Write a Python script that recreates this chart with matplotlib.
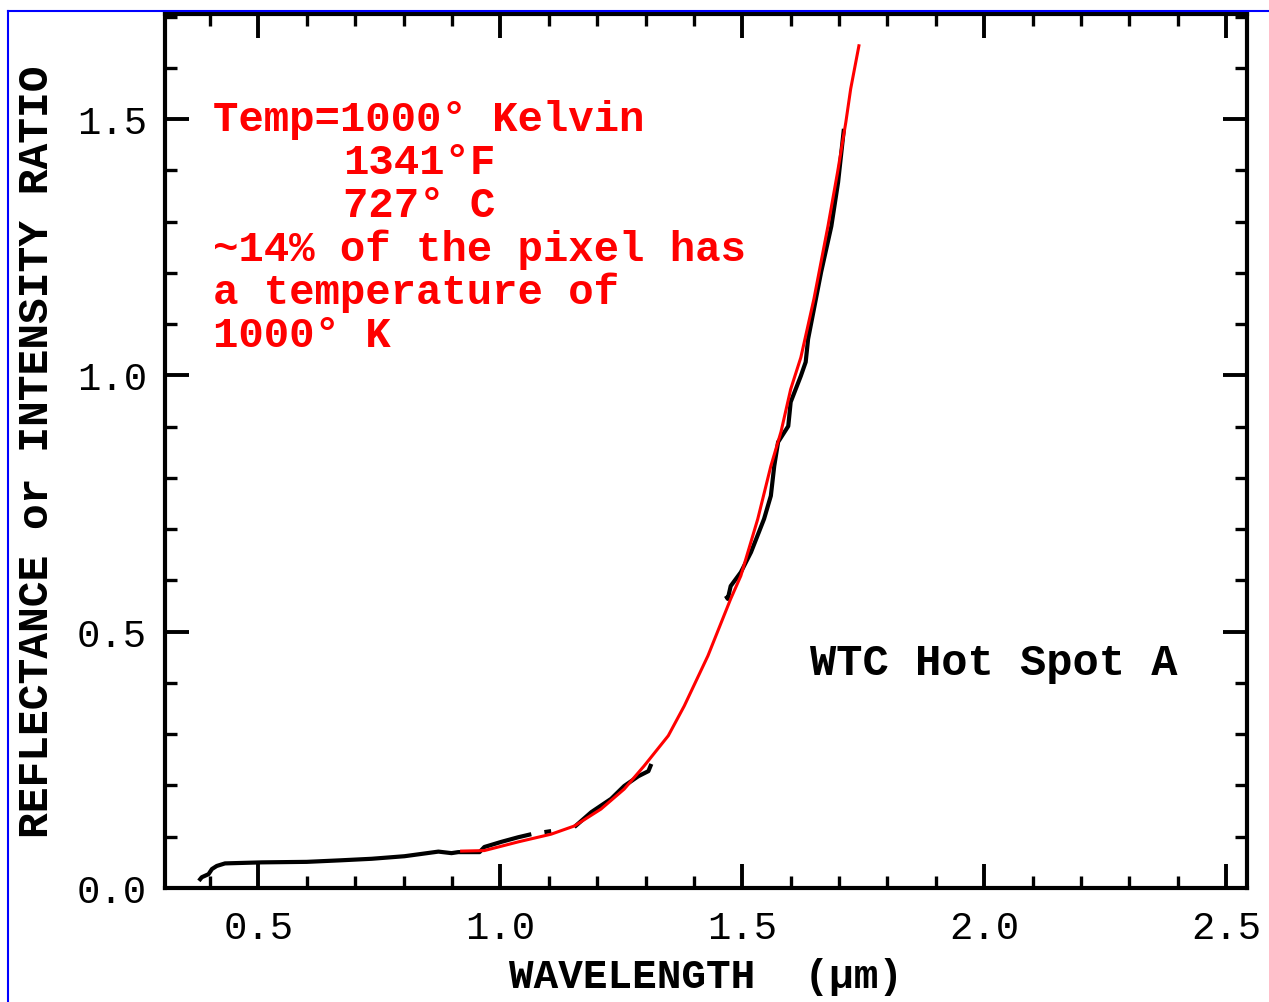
import numpy as np
import matplotlib
matplotlib.use("Agg")
import matplotlib.pyplot as plt
from matplotlib.lines import Line2D
from matplotlib.ticker import MultipleLocator

# measured spectrum (black), NaN marks gaps in the trace
wl_meas = [0.377, 0.383, 0.397, 0.404, 0.414, 0.431, 0.507, 0.600, 0.670, 0.734,
           0.802, 0.872, 0.899, 0.913, 0.957, 0.967, 1.002, 1.037, 1.064, np.nan,
           1.091, 1.105, np.nan,
           1.153, 1.188, 1.229, 1.256, 1.285, 1.306, 1.312, np.nan,
           1.466, 1.470, 1.476, 1.497, 1.518, 1.545, 1.559, 1.566, 1.574, 1.595,
           1.600, 1.621, 1.631, 1.636, 1.663, 1.684, 1.698, 1.710]
refl_meas = [0.014, 0.021, 0.027, 0.037, 0.043, 0.048, 0.050, 0.051, 0.054, 0.057,
             0.062, 0.071, 0.068, 0.070, 0.070, 0.080, 0.090, 0.099, 0.105, np.nan,
             0.109, 0.111, np.nan,
             0.119, 0.148, 0.174, 0.199, 0.218, 0.228, 0.242, np.nan,
             0.570, 0.564, 0.589, 0.616, 0.655, 0.720, 0.765, 0.823, 0.870, 0.901,
             0.948, 0.999, 1.026, 1.071, 1.202, 1.291, 1.377, 1.481]

# blackbody fit (red)
wl_fit = [0.920, 0.967, 1.037, 1.105, 1.153, 1.208, 1.256, 1.297, 1.347, 1.380,
          1.429, 1.476, 1.497, 1.532, 1.559, 1.580, 1.600, 1.621, 1.648, 1.677,
          1.697, 1.714, 1.724, 1.741]
refl_fit = [0.072, 0.073, 0.090, 0.105, 0.121, 0.154, 0.193, 0.238, 0.297, 0.355,
            0.453, 0.564, 0.609, 0.720, 0.823, 0.890, 0.973, 1.035, 1.149, 1.291,
            1.397, 1.494, 1.559, 1.643]

note_lines = ["Temp=1000\u00b0 Kelvin", "1341\u00b0F", "727\u00b0 C",
              "~14% of the pixel has", "a temperature of", "1000\u00b0 K"]
note_indent = [0, 1, 1, 0, 0, 0]

mono = "Liberation Mono"

fig = plt.figure(figsize=(12.69, 10.03), dpi=100)
ax = fig.add_axes([165 / 1269, 1 - 889 / 1003, (1247 - 165) / 1269, (889 - 15) / 1003])

ax.plot(wl_meas, refl_meas, color="black", lw=3.0, solid_capstyle="butt")
ax.plot(wl_fit, refl_fit, color="red", lw=2.2)

ax.set_xlim(0.307, 2.543)
ax.set_ylim(0.0, 1.705)

ax.xaxis.set_major_locator(MultipleLocator(0.5))
ax.xaxis.set_minor_locator(MultipleLocator(0.1))
ax.yaxis.set_major_locator(MultipleLocator(0.5))
ax.yaxis.set_minor_locator(MultipleLocator(0.1))
ax.xaxis.set_major_formatter(lambda v, p: "%.1f" % v)
ax.yaxis.set_major_formatter(lambda v, p: "%.1f" % v)

ax.tick_params(which="both", direction="in", top=True, right=True, color="black")
ax.tick_params(which="major", length=17, width=2.8)
ax.tick_params(which="minor", length=8.5, width=2.4)
ax.tick_params(axis="x", which="major", pad=16, labelsize=28)
ax.tick_params(axis="y", which="major", pad=13, labelsize=28)
for lab in ax.get_xticklabels() + ax.get_yticklabels():
    lab.set_family(mono)

for s in ax.spines.values():
    s.set_linewidth(3.0)

ax.set_xlabel("WAVELENGTH  (\u03bcm)", family=mono, fontweight="bold", fontsize=29.5, labelpad=8)
ax.set_ylabel("REFLECTANCE or INTENSITY RATIO", family=mono, fontweight="bold",
              fontsize=31, labelpad=14)

# red annotation block
for i, line in enumerate(note_lines):
    xpx = 213 if note_indent[i] == 0 else 343
    ypx = 120 + i * 43.2
    fig.text(xpx / 1269, 1 - ypx / 1003, line, color="red", family=mono,
             fontweight="bold", fontsize=30.5, va="center", ha="left")

fig.text(810 / 1269, 1 - 663 / 1003, "WTC Hot Spot A", color="black", family=mono,
         fontweight="bold", fontsize=31.5, va="center", ha="left")

# blue page frame
fig.add_artist(Line2D([8 / 1269, 1.0], [1 - 12 / 1003, 1 - 12 / 1003],
                      transform=fig.transFigure, color="blue", lw=1.5))
fig.add_artist(Line2D([8 / 1269, 8 / 1269], [0.0, 1 - 12 / 1003],
                      transform=fig.transFigure, color="blue", lw=1.5))

fig.savefig("out.png", dpi=100)
